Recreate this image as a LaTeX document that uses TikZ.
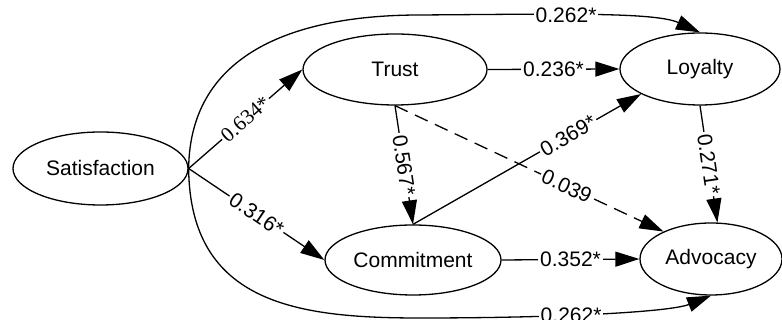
\documentclass[tikz,border=0pt]{standalone}
\usepackage{fontspec}
\setmainfont{Liberation Sans}
\newfontfamily\serifnum{Liberation Serif}
\usetikzlibrary{shapes.geometric, arrows.meta, positioning}

\begin{document}
\begin{tikzpicture}[x=0.5pt, y=0.5pt,
  latent/.style={ellipse, draw, line width=0.65pt, inner sep=0pt, font=\fontsize{10.5}{12}\selectfont},
  arr/.style={line width=0.65pt, -{Triangle[length=12pt, width=7.5pt]}},
  lbl/.style={fill=white, inner sep=1pt, font=\fontsize{10.5}{12}\selectfont}]
\useasboundingbox (0,0) rectangle (782,320);

% constructs
\node[latent, minimum width=87.5pt, minimum height=36.5pt] (sat) at (100.5,151.5) {Satisfaction};
\node[latent, minimum width=92pt, minimum height=35.5pt] (trust) at (395,250.5) {Trust};
\node[latent, minimum width=80pt, minimum height=36pt] (loy) at (700,251) {Loyalty};
\node[latent, minimum width=88pt, minimum height=35pt] (comm) at (413,60) {Commitment};
\node[latent, minimum width=71pt, minimum height=36pt] (adv) at (711,61) {Advocacy};

% straight paths
\draw[arr] (sat.east) -- node[lbl, sloped, font=\serifnum\fontsize{10.5}{12}\selectfont] {0.634*} (trust.west);
\draw[arr] (sat.east) -- node[lbl, sloped] {0.316*} (comm.west);
\draw[arr] (trust.east) -- node[lbl] {0.236*} (loy.west);
\draw[arr] (comm.east) -- node[lbl] {0.352*} (adv.west);
\draw[arr] (trust.south) -- node[lbl, sloped] {0.567*} (comm.north);
\draw[arr] (comm.north) -- node[lbl, sloped, pos=0.68] {0.369*} (loy.203);
\draw[arr] (loy.south) -- node[lbl, sloped] {0.271*} (adv.80);
\draw[arr, dash pattern=on 7pt off 4pt] (trust.south) -- node[lbl, sloped, pos=0.64] {0.039} (adv.150);

% direct effects of satisfaction
\draw[arr] (sat.east) .. controls (190,270) and (300,305) .. (420,305)
  .. controls (560,306) and (655,308) .. node[lbl, pos=0.4] {0.262*} (loy.north);
\draw[arr] (sat.east) .. controls (190,15) and (300,2) .. (420,2)
  .. controls (560,2) and (670,8) .. node[lbl, pos=0.4] {0.262*} (adv.south);
\end{tikzpicture}
\end{document}
